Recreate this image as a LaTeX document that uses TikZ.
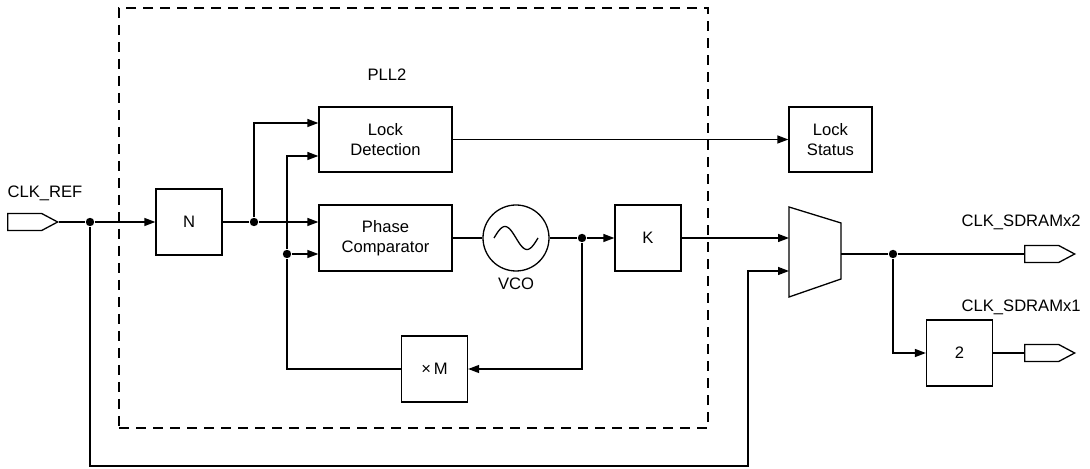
\documentclass[tikz,border=0pt]{standalone}
\usepackage{fontspec}
\setmainfont{Liberation Sans}
\usetikzlibrary{positioning,arrows.meta,shapes.symbols,calc}

\begin{document}
\begin{tikzpicture}[x=0.5pt, y=-0.5pt,
    font=\fontsize{8.3}{9.8}\selectfont,
    line width=0.65pt,
    blk/.style={draw, align=center, inner sep=0pt,
                minimum width=33pt, minimum height=33pt},
    wide/.style={blk, minimum width=66.5pt},
    port/.style={draw, shape=signal, signal to=east, inner sep=0pt,
                 minimum width=25pt, minimum height=8.5pt, signal pointer angle=56},
    dot/.style={circle, fill, inner sep=0pt, minimum size=4.2pt},
    arr/.style={-{Triangle[length=5.5pt,width=4pt]}},
    lbl/.style={inner sep=0pt, anchor=west}
  ]
  \useasboundingbox (0,0) rectangle (1090,469);

  % PLL2 frame
  \node[draw, dashed, dash pattern=on 5pt off 3.5pt, inner sep=0pt,
        minimum width=294.5pt, minimum height=210pt] (pll) at (413.5,218) {};
  \node (plllbl) at (387,75) {PLL2};

  % Input
  \node[lbl] (reflbl) at (7,193) {CLK\_REF};
  \node[port, anchor=west] (refin) at (7,222) {};
  \node[dot] (d1) at (90,222) {};
  \node[blk] (n) at (189,222) {N};
  \node[dot] (d2) at (254,222) {};

  % Loop
  \node[wide, minimum height=32.5pt] (lock) at (385.5,139.5) {Lock\\Detection};
  \node[wide] (pc) at (385.5,238) {Phase\\Comparator};
  \node[circle, draw, minimum size=33pt, inner sep=0pt] (vco) at (516,238) {};
  \draw[shift={(vco.center)}] plot[domain=-22:22, samples=40, smooth]
    ({\x}, {11.5*sin(\x*360/44)});
  \node (vcolbl) at (516,284) {VCO};
  \node[dot] (d3) at (582,238) {};
  \node[blk] (k) at (648,238) {K};
  \node[blk] (mul) at (434.5,369) {×\,M};
  \node[dot] (d4) at (287,254) {};

  % Lock status
  \node[blk, minimum width=41.5pt, minimum height=32.5pt] (lstat) at (830.5,139.5) {Lock\\Status};

  % Mux
  \coordinate (mtl) at (789,207);
  \coordinate (mtr) at (841,223);
  \coordinate (mbr) at (841,279);
  \coordinate (mbl) at (789,297);
  \draw (mtl) -- (mtr) -- (mbr) -- (mbl) -- cycle;
  \coordinate (mina) at (789,238);
  \coordinate (minb) at (789,271);
  \coordinate (mout) at (841,254);

  % Outputs
  \node[dot] (d5) at (893,254) {};
  \node[lbl] (x2lbl) at (961,222) {CLK\_SDRAMx2};
  \node[port, anchor=west] (out2) at (1024,254) {};
  \node[blk] (div) at (959.5,353) {2};
  \node[lbl] (x1lbl) at (961,307) {CLK\_SDRAMx1};
  \node[port, anchor=west] (out1) at (1024,353) {};
  \coordinate (br) at (748,466);

  % Connections
  \draw (refin.east) -- (d1);
  \draw[arr] (d1) -- (n.west);
  \draw (n.east) -- (d2);
  \draw[arr] (d2) |- ([yshift=8.25pt]lock.west);
  \draw[arr] (d2) -- (pc.west |- d2);
  \draw[arr] (mul.west) -| (d4) |- ([yshift=-8.25pt]lock.west);
  \draw[arr] (d4) -- (pc.west |- d4);
  \draw (pc) -- (vco);
  \draw (vco) -- (d3);
  \draw[arr] (d3) -- (k);
  \draw[arr] (d3) |- (mul.east);
  \draw[arr] (k) -- (mina);
  \draw[arr] (lock.east) -- (lstat.west);
  \draw[arr] (d1) |- (br) |- (minb);
  \draw (mout) -- (d5);
  \draw (d5) -- (out2.west);
  \draw[arr] (d5) |- (div.west);
  \draw (div.east) -- (out1.west);
\end{tikzpicture}
\end{document}
